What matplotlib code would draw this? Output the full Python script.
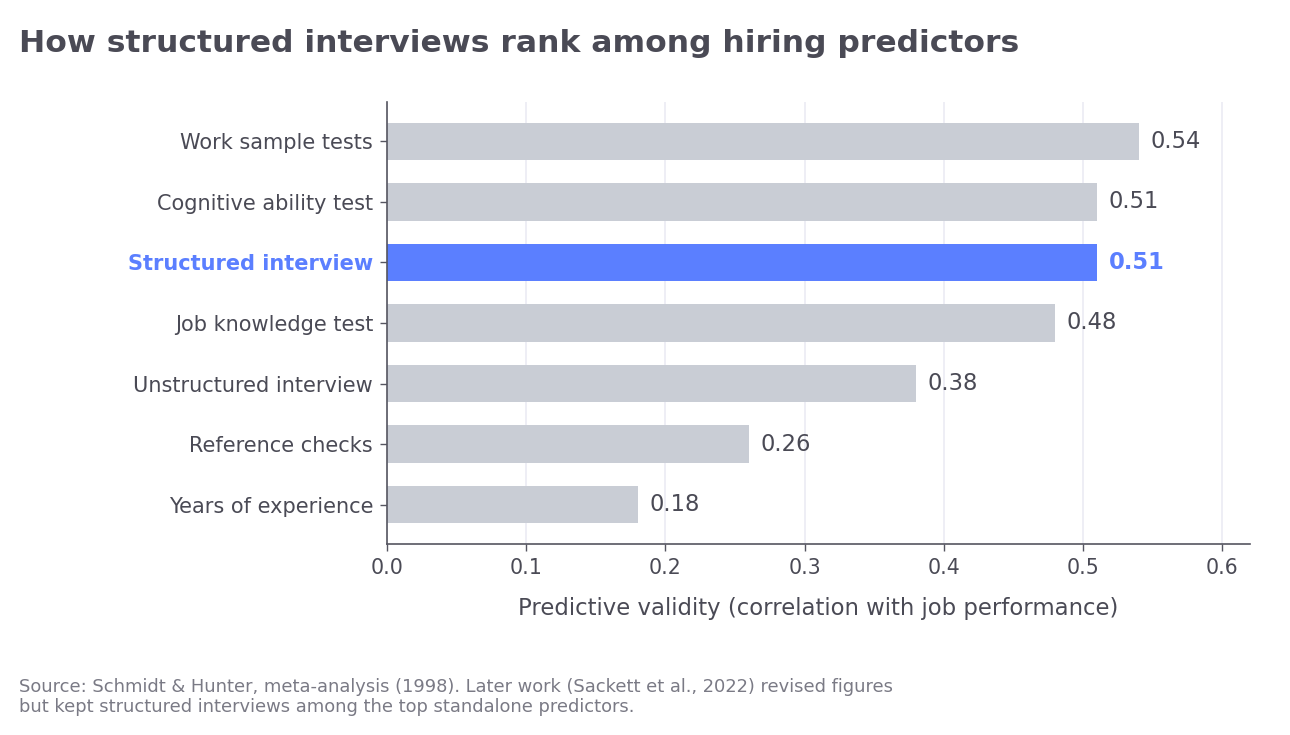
import matplotlib
matplotlib.use("Agg")
import matplotlib.pyplot as plt

categories = ["Work sample tests", "Cognitive ability test", "Structured interview",
              "Job knowledge test", "Unstructured interview", "Reference checks",
              "Years of experience"]
values = [0.54, 0.51, 0.51, 0.48, 0.38, 0.26, 0.18]
highlight = "Structured interview"
xticks = [0.0, 0.1, 0.2, 0.3, 0.4, 0.5, 0.6]

TEXT = "#4A4A55"
GRAY = "#C9CDD5"
BLUE = "#5B7FFF"

plt.rcParams['font.family'] = ['DejaVu Sans']
fig = plt.figure(figsize=(12.9, 7.35), dpi=100)
ax = fig.add_axes([387/1290, 1-544/735, (1250-387)/1290, (544-102)/735])

ypos = list(range(len(categories)))
colors = [BLUE if c == highlight else GRAY for c in categories]
ax.barh(ypos, values, height=0.62, color=colors, zorder=2)
ax.set_ylim(len(categories) - 0.35, -0.65)
ax.set_xlim(0, 0.62)
ax.set_yticks(ypos)
ax.set_yticklabels(categories, fontsize=15, color=TEXT)
ax.set_xticks(xticks)
ax.set_xticklabels([f"{t:.1f}" for t in xticks], fontsize=14.8, color=TEXT)
ax.tick_params(axis='both', colors="#555560", length=5, width=1)
ax.tick_params(axis='y', labelcolor=TEXT, pad=5)
ax.tick_params(axis='x', labelcolor=TEXT, pad=5)
for lbl in ax.get_yticklabels():
    if lbl.get_text() == highlight:
        lbl.set_color(BLUE)
        lbl.set_fontweight('bold')

for y, v, c in zip(ypos, values, categories):
    hl = c == highlight
    ax.annotate(f"{v:.2f}", xy=(v, y), xytext=(8.5, 0), textcoords="offset points",
                ha='left', va='center', fontsize=16.3,
                color=BLUE if hl else TEXT, fontweight='bold' if hl else 'normal')

ax.grid(axis='x', color="#EBEBF3", linewidth=1.2, zorder=0)
ax.set_axisbelow(True)
for s in ['top', 'right']:
    ax.spines[s].set_visible(False)
for s in ['left', 'bottom']:
    ax.spines[s].set_color("#555560")
    ax.spines[s].set_linewidth(1.2)

ax.set_xlabel("Predictive validity (correlation with job performance)", fontsize=16.4,
              color=TEXT, labelpad=14)

fig.text(19/1290, 1-44/735, "How structured interviews rank among hiring predictors",
         fontsize=22.6, fontweight='bold', color=TEXT, ha='left', va='center')
fig.text(19/1290, 1-697/735,
         "Source: Schmidt & Hunter, meta-analysis (1998). Later work (Sackett et al., 2022) revised figures\n"
         "but kept structured interviews among the top standalone predictors.",
         fontsize=12.85, color="#7A7A85", ha='left', va='center', linespacing=1.2)

fig.savefig("out.png", dpi=100)
